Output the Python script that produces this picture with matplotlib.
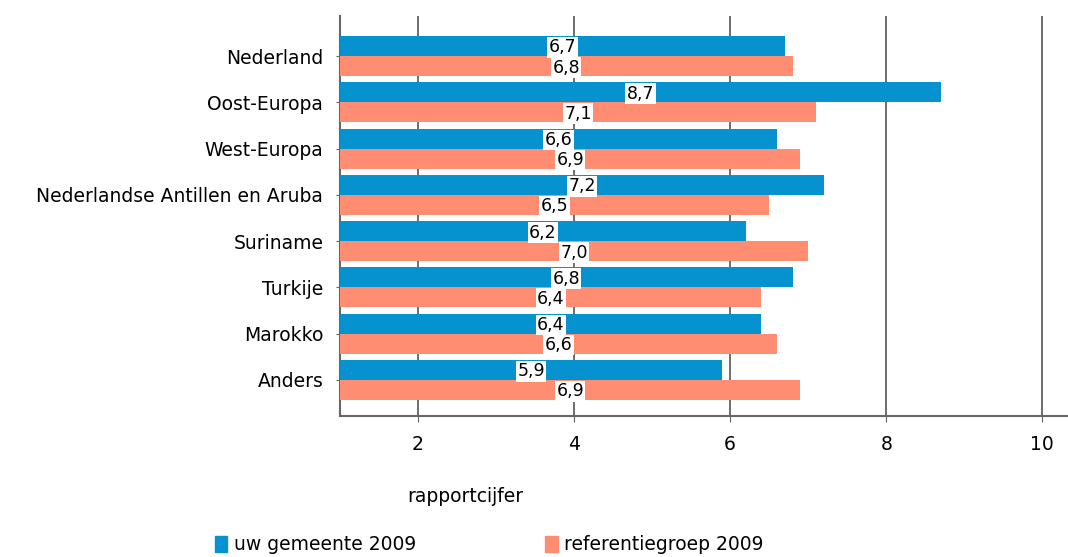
import matplotlib
matplotlib.use("Agg")
import matplotlib.pyplot as plt
import numpy as np
from matplotlib.patches import Patch

plt.rcParams['font.family'] = ['DejaVu Sans']

categories = ["Nederland", "Oost-Europa", "West-Europa", "Nederlandse Antillen en Aruba",
              "Suriname", "Turkije", "Marokko", "Anders"]
gemeente = [6.7, 8.7, 6.6, 7.2, 6.2, 6.8, 6.4, 5.9]
referentie = [6.8, 7.1, 6.9, 6.5, 7.0, 6.4, 6.6, 6.9]
xticks = [2, 4, 6, 8, 10]

blue = "#0592CE"
orange = "#FE8D71"
fs = 13.5

fig = plt.figure(figsize=(10.68, 5.57), dpi=100)
ax = fig.add_axes([340/1068, 1-416/557, (1068-340)/1068, 400/557])

xmin, xmax = 1, 10.33
y = np.arange(len(categories))
h = 0.434
ax.barh(y - h/2, gemeente, height=h, color=blue, zorder=3)
ax.barh(y + h/2, referentie, height=h, color=orange, zorder=3)

for yi, g, r in zip(y, gemeente, referentie):
    for val, yy in ((g, yi - h/2), (r, yi + h/2)):
        ax.text((xmin + val)/2, yy + 0.03, f"{val:.1f}".replace(".", ","), ha="center", va="center",
                fontsize=12.5, zorder=5,
                bbox=dict(boxstyle="square,pad=0.08", fc="white", ec="none"))

ax.set_xlim(xmin, xmax)
ax.set_ylim(7.78, -0.868)
ax.set_yticks(y)
ax.set_yticklabels(categories, fontsize=fs)
ax.set_xticks(xticks)
ax.set_xticklabels([str(t) for t in xticks], fontsize=fs)
ax.xaxis.grid(True, color="#555555", linewidth=1.2, zorder=0)
ax.set_axisbelow(True)
for s in ["top", "right"]:
    ax.spines[s].set_visible(False)
for s in ["left", "bottom"]:
    ax.spines[s].set_color("#666666")
    ax.spines[s].set_linewidth(1.5)
ax.tick_params(axis="y", length=3, color="#666666", pad=9)
ax.tick_params(axis="x", length=4, color="#666666", pad=10)

fig.text(465/1068, 1-496/557, "rapportcijfer", ha="center", va="center", fontsize=fs)

handles = [Patch(color=blue, label="uw gemeente 2009"), Patch(color=orange, label="referentiegroep 2009")]
leg = fig.legend(handles=handles, loc="center left", bbox_to_anchor=(215/1068, 1-545/557), ncol=2,
                 frameon=False, fontsize=fs, handlelength=0.65, handleheight=0.9, handletextpad=0.35,
                 columnspacing=6.9, borderpad=0, borderaxespad=0)

fig.savefig("out.png", dpi=100)
